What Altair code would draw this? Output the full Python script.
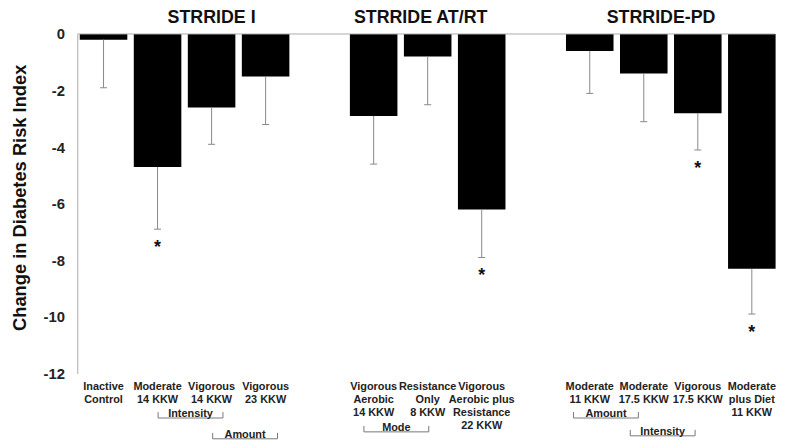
import altair as alt
import pandas as pd

# ---------------- data ----------------
group_names = ["STRRIDE I", "STRRIDE AT/RT", "STRRIDE-PD"]
group_sizes = [4, 3, 4]
bar_labels = [
    "Inactive\nControl",
    "Moderate\n14 KKW",
    "Vigorous\n14 KKW",
    "Vigorous\n23 KKW",
    "Vigorous\nAerobic\n14 KKW",
    "Resistance\nOnly\n8 KKW",
    "Vigorous\nAerobic plus\nResistance\n22 KKW",
    "Moderate\n11 KKW",
    "Moderate\n17.5 KKW",
    "Vigorous\n17.5 KKW",
    "Moderate\nplus Diet\n11 KKW",
]
is_control = [True, False, False, False, False, False, False, False, False, False, False]
values = [-0.2, -4.7, -2.6, -1.5, -2.9, -0.8, -6.2, -0.6, -1.4, -2.8, -8.3]
err_ends = [-1.9, -6.9, -3.9, -3.2, -4.6, -2.5, -7.9, -2.1, -3.1, -4.1, -9.9]
significant = [False, True, False, False, False, False, True, False, False, True, True]

bracket_labels = ["Intensity", "Amount", "Mode", "Amount", "Intensity"]
bracket_first_bar = [1, 2, 4, 7, 8]
bracket_second_bar = [2, 3, 5, 8, 9]

y_ticks = [0, -2, -4, -6, -8, -10, -12]

# ---------------- layout (pixels / slots) ----------------
FONT = "Liberation Sans"
W, H = 705, 343
Y_MIN, Y_MAX = -12, 0
X_LEFT_PAD, X_RIGHT_PAD = 0.486, 0.43   # slot fractions outside first / last bar centres
BAR_HALF = 0.44
CAP_HALF = 0.065
BRACKET_HALF = 0.6
bracket_shift = [0.11, 0.12, -0.08, -0.2, -0.15]   # slot offsets of bracket centres
title_shift = [0.0, -0.13, -0.18]                   # slot offsets of study titles
bracket_line_px = [388, 409, 402, 388, 406]         # plot-area y of the bracket lines
BRACKET_TICK = 6


def px_to_y(px):
    return Y_MAX - px * (Y_MAX - Y_MIN) / H


# slot positions with a one-slot gap between studies
positions = []
group_of = []
slot = 0
for gi, n in enumerate(group_sizes):
    for _ in range(n):
        positions.append(slot)
        group_of.append(group_names[gi])
        slot += 1
    slot += 1
x_min, x_max = -X_LEFT_PAD, positions[-1] + X_RIGHT_PAD

bars = pd.DataFrame({
    "label": bar_labels,
    "pos": positions,
    "value": values,
    "err": err_ends,
    "sig": significant,
    "group": group_of,
    "control": is_control,
})
bars["x0"] = bars["pos"] - BAR_HALF
bars["x1"] = bars["pos"] + BAR_HALF
bars["c0"] = bars["pos"] - CAP_HALF
bars["c1"] = bars["pos"] + CAP_HALF
bars["zero"] = 0.0
bars["laby"] = px_to_y(351)

titles = (
    bars[~bars["control"]]
    .groupby("group", sort=False)["pos"].mean()
    .reset_index()
)
titles["pos"] = titles["pos"] + title_shift
titles["ty"] = px_to_y(-16)

br = pd.DataFrame({
    "text": bracket_labels,
    "mid": [(positions[a] + positions[b]) / 2 + s
            for a, b, s in zip(bracket_first_bar, bracket_second_bar, bracket_shift)],
    "lypx": bracket_line_px,
})
br["xa"] = br["mid"] - BRACKET_HALF
br["xb"] = br["mid"] + BRACKET_HALF
br["ly"] = px_to_y(br["lypx"])
br["ty"] = px_to_y(br["lypx"] - BRACKET_TICK)

zero_df = pd.DataFrame({"xa": [x_min], "xb": [x_max], "y": [0.0]})

xs = alt.Scale(domain=[x_min, x_max], nice=False, zero=False)
ys = alt.Scale(domain=[Y_MIN, Y_MAX], nice=False, zero=False)

Y_AXIS = alt.Axis(
    values=y_ticks,
    title="Change in Diabetes Risk Index",
    grid=False,
    ticks=False,
    tickSize=0,
    labelPadding=13,
    labelFont=FONT,
    labelFontWeight="bold",
    labelFontSize=15,
    labelColor="#222",
    labelExpr="datum.value + ''",
    domainColor="#aaaaaa",
    titleFont=FONT,
    titleFontWeight="bold",
    titleFontSize=18.5,
    titleColor="#111",
    titleX=-58,
    titleY=165,
    titleAngle=-90,
    titleAlign="center",
    titleBaseline="middle",
)


def X(field):
    return alt.X(field, scale=xs, axis=None)


def Y(field):
    return alt.Y(field, scale=ys, axis=Y_AXIS)


base = alt.Chart(bars)

bar_layer = base.mark_bar(color="black").encode(
    x=X("x0:Q"), x2="x1:Q", y=Y("value:Q"), y2="zero:Q"
)
err_layer = base.mark_rule(color="#888888", strokeWidth=1).encode(
    x=X("pos:Q"), y=Y("value:Q"), y2="err:Q"
)
cap_layer = base.mark_rule(color="#888888", strokeWidth=1).encode(
    x=X("c0:Q"), x2="c1:Q", y=Y("err:Q")
)
star_layer = base.transform_filter("datum.sig").mark_text(
    text="*", font=FONT, fontSize=18, fontWeight="bold", color="#111",
    baseline="alphabetic", dy=24,
).encode(x=X("pos:Q"), y=Y("err:Q"))

zero_layer = alt.Chart(zero_df).mark_rule(color="#aaaaaa", strokeWidth=1).encode(
    x=X("xa:Q"), x2="xb:Q", y=Y("y:Q")
)

label_layer = base.mark_text(
    font=FONT, fontSize=11, fontWeight="bold", color="#222",
    baseline="top", align="center", lineBreak="\n", lineHeight=13,
).encode(x=X("pos:Q"), y=Y("laby:Q"), text="label:N")

title_layer = alt.Chart(titles).mark_text(
    font=FONT, fontSize=18, fontWeight="bold", color="#111", baseline="middle"
).encode(x=X("pos:Q"), y=Y("ty:Q"), text="group:N")

bchart = alt.Chart(br)
BR_COLOR = "#777777"
br_line = bchart.mark_rule(color=BR_COLOR, strokeWidth=1).encode(
    x=X("xa:Q"), x2="xb:Q", y=Y("ly:Q")
)
br_left = bchart.mark_rule(color=BR_COLOR, strokeWidth=1).encode(
    x=X("xa:Q"), y=Y("ly:Q"), y2="ty:Q"
)
br_right = bchart.mark_rule(color=BR_COLOR, strokeWidth=1).encode(
    x=X("xb:Q"), y=Y("ly:Q"), y2="ty:Q"
)
br_text = bchart.mark_text(
    font=FONT, fontSize=11, fontWeight="bold", color="#222", baseline="alphabetic", dy=-1
).encode(x=X("mid:Q"), y=Y("ly:Q"), text="text:N")

chart = alt.layer(
    bar_layer, zero_layer, err_layer, cap_layer, star_layer,
    label_layer, title_layer, br_line, br_left, br_right, br_text,
).properties(
    width=W,
    height=H,
    padding={"left": 70, "top": 24, "right": 5, "bottom": 69},
    autosize=alt.AutoSizeParams(type="none"),
).configure_view(stroke=None)

chart.save("out.html", embed_options={"renderer": "svg", "actions": False})
